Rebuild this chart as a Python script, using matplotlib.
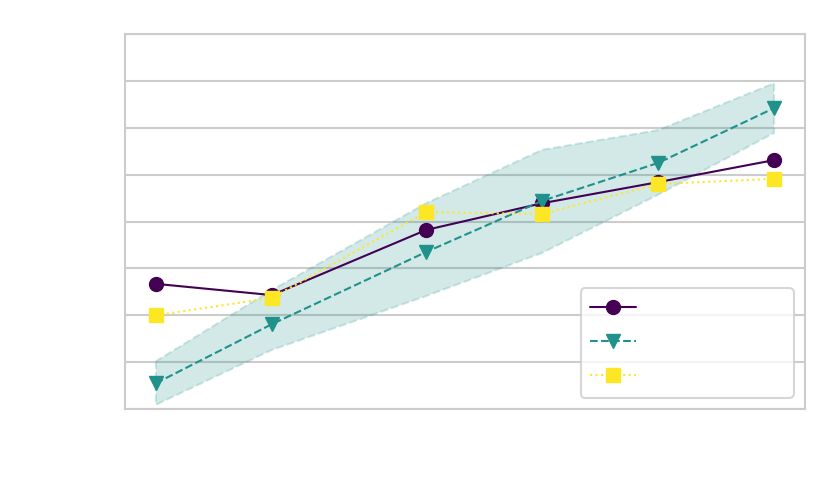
import matplotlib
matplotlib.use("Agg")
import matplotlib.pyplot as plt
import seaborn as sns

# data (no tick labels shown)
x = [1.0, 2.0, 3.33, 4.33, 5.33, 6.33]
series_a = [2.67, 2.43, 3.82, 4.39, 4.84, 5.31]
series_b = [0.55, 1.81, 3.35, 4.44, 5.25, 6.42]
series_c = [2.0, 2.37, 4.2, 4.16, 4.8, 4.91]
band_low = [0.09, 1.26, 2.41, 3.33, 4.57, 5.89]
band_high = [1.02, 2.54, 4.39, 5.53, 5.95, 6.95]
labels = [" " * 18, " " * 18, " " * 18]

purple = "#440154"
teal = "#21918c"
yellow = "#fde725"

sns.set_theme(style="whitegrid", context="talk")

fig = plt.figure(figsize=(8.3, 4.98), dpi=100)
ax = fig.add_axes([0.1506, 0.1787, 0.9699 - 0.1506, 0.9317 - 0.1787])

ax.fill_between(x, band_low, band_high, color=teal, alpha=0.2,
                linestyle="--", linewidth=1.5)
ax.plot(x, series_a, color=purple, marker="o", linestyle="-",
        linewidth=1.5, markersize=10, label=labels[0])
ax.plot(x, series_b, color=teal, marker="v", linestyle="--",
        linewidth=1.5, markersize=10, label=labels[1])
ax.plot(x, series_c, color=yellow, marker="s", linestyle=":",
        linewidth=1.5, markersize=10, label=labels[2])

ax.set_ylim(0, 8)
ax.set_yticks(range(9))
ax.set_yticklabels([])
ax.set_xticklabels([])
ax.xaxis.grid(False)
ax.yaxis.grid(True, linewidth=1.5)
ax.tick_params(length=0)
for sp in ax.spines.values():
    sp.set_linewidth(1.5)

ax.legend(loc="lower right", frameon=True, labelspacing=0.48)

plt.savefig("out.png", dpi=100)
